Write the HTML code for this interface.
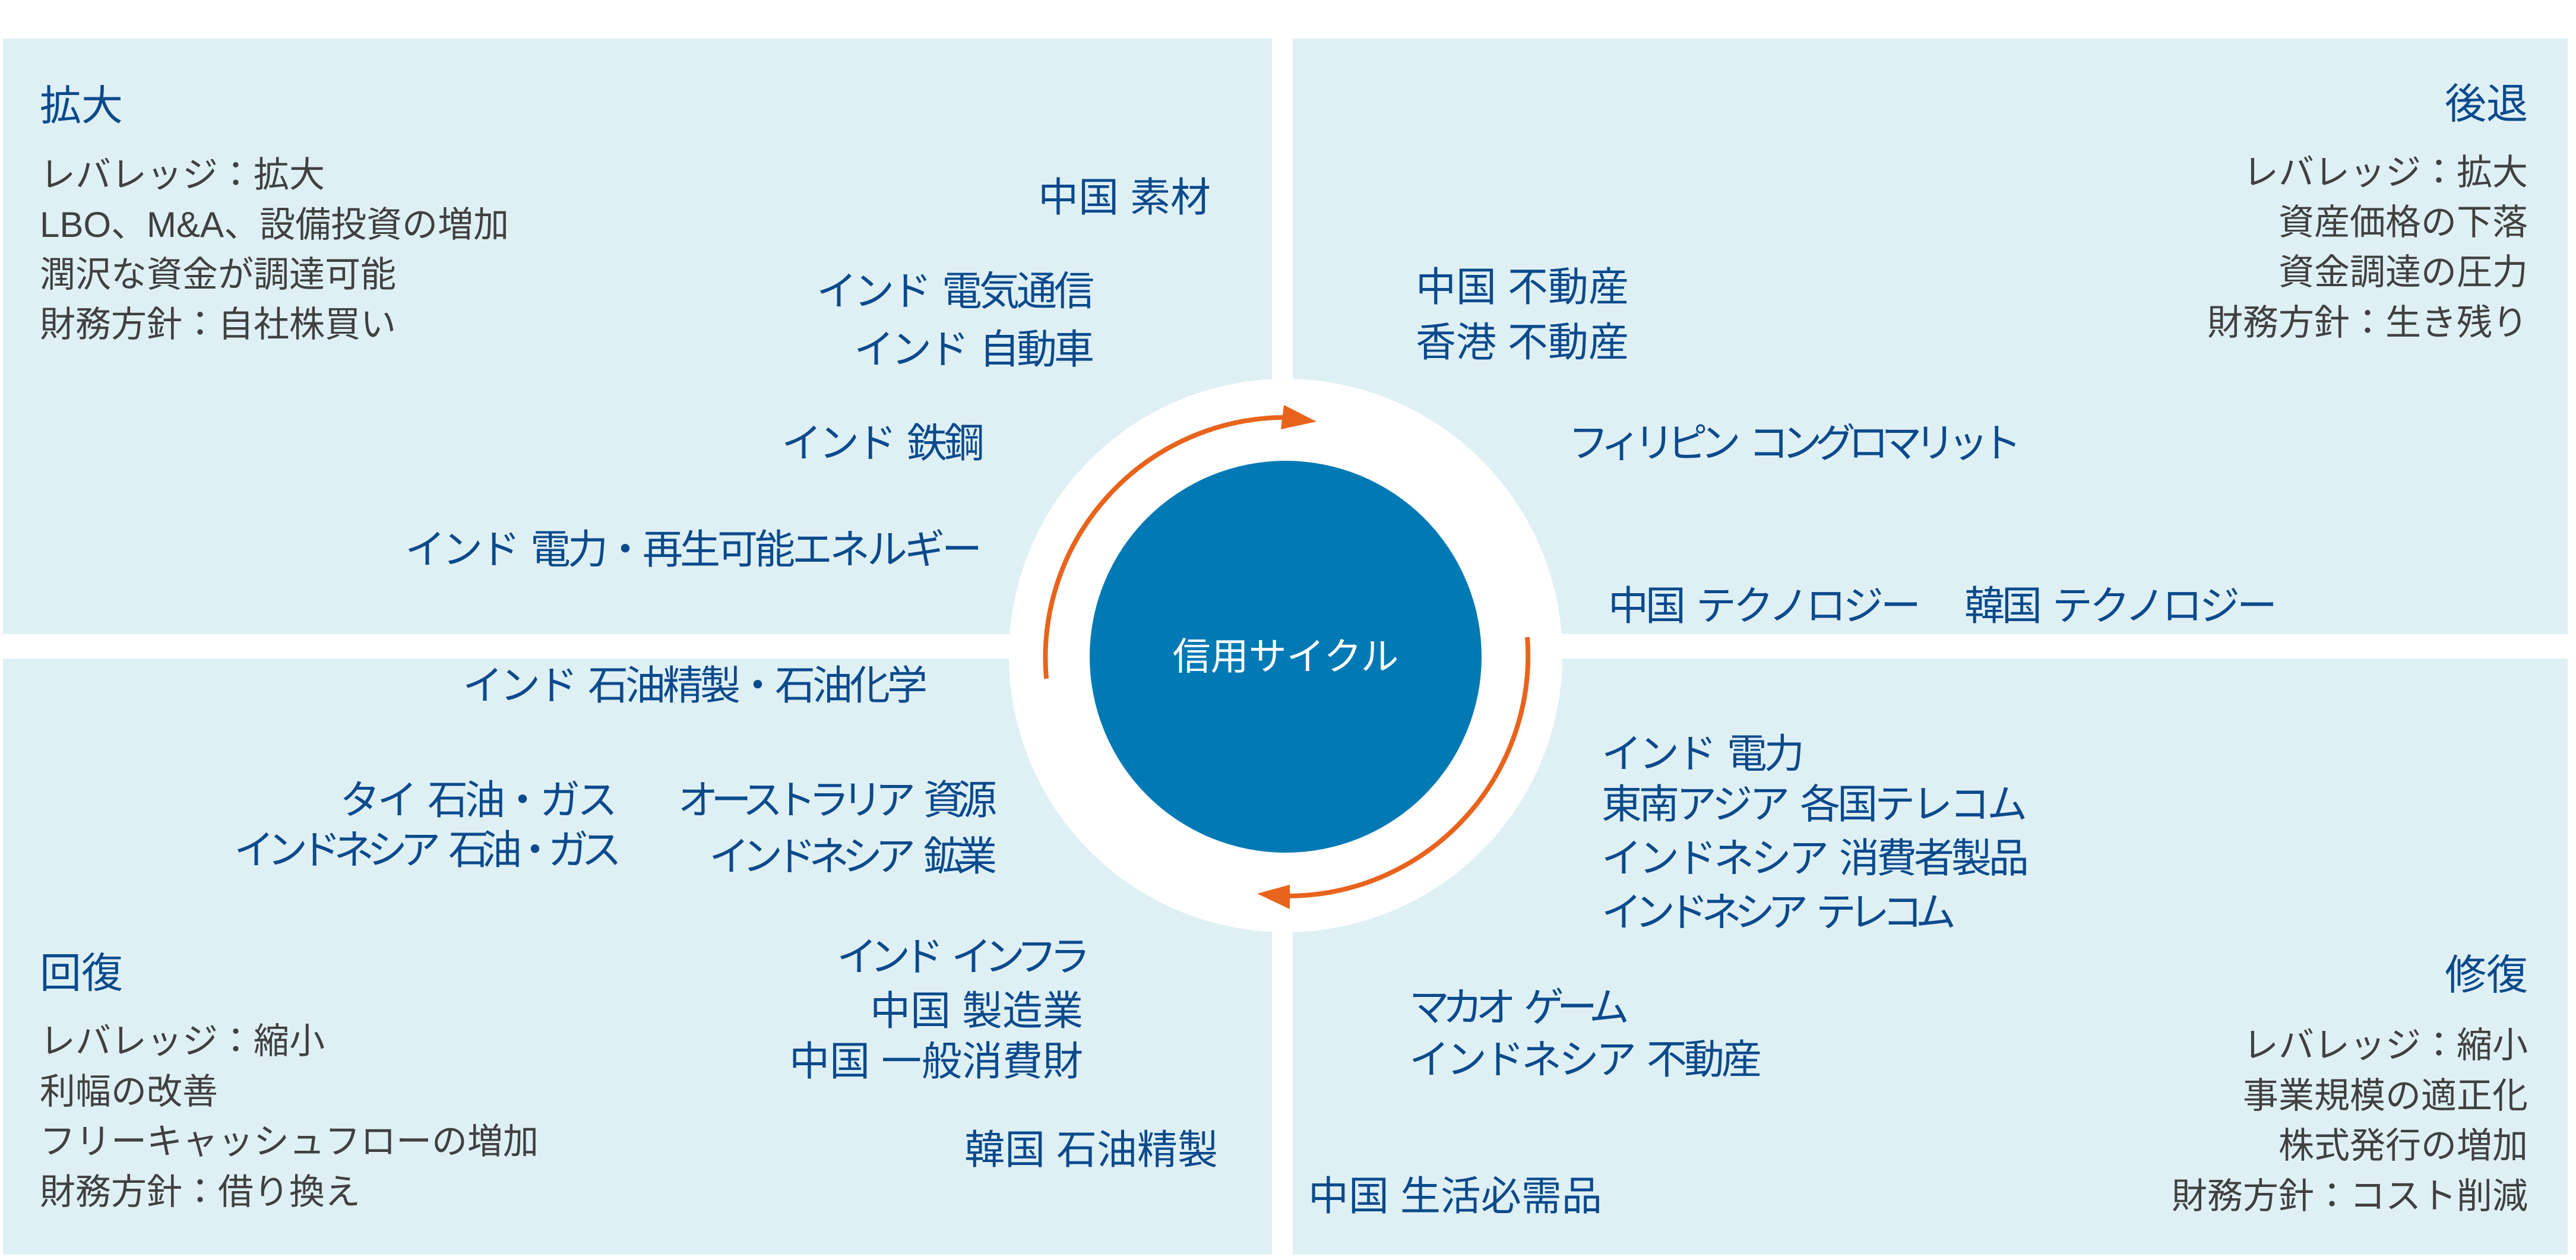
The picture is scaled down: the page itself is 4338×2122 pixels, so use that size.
<!DOCTYPE html>
<html><head><meta charset="utf-8">
<style>
html,body{margin:0;padding:0;background:#fff;}
#c{position:relative;width:4338px;height:2122px;overflow:hidden;background:#fff;font-family:"Liberation Sans","Noto Sans CJK JP",sans-serif;}
.p{position:absolute;background:#dff0f5;}
.t{position:absolute;white-space:nowrap;transform:translateY(-50%);line-height:1;}
.b{color:#0b4a8c;font-size:68px;}
.h{color:#0b4a8c;font-size:70px;}
.g{color:#404040;font-size:60px;}
.r{text-align:right;}
.k{letter-spacing:-12px;word-spacing:18px;}
.m{letter-spacing:-5px;word-spacing:8px;}
svg{position:absolute;left:0;top:0;}
</style></head><body><div id="c">
<div class="p" style="left:5px;top:65px;width:2137px;height:1003px"></div>
<div class="p" style="left:2177px;top:65px;width:2147px;height:1003px"></div>
<div class="p" style="left:5px;top:1109px;width:2137px;height:1004px"></div>
<div class="p" style="left:2177px;top:1109px;width:2147px;height:1004px"></div>

<svg width="4338" height="2122" viewBox="0 0 4338 2122">
<circle cx="2165" cy="1104" r="466" fill="#fff"/>
<circle cx="2165" cy="1106" r="330" fill="#0079b4"/>
<path d="M1762 1143 A405 405 0 0 1 2160 703" fill="none" stroke="#e8641c" stroke-width="8"/>
<polygon points="2162,682 2217,710 2157,723" fill="#e8641c"/>
<path d="M2572 1073 A405 405 0 0 1 2172 1509" fill="none" stroke="#e8641c" stroke-width="8"/>
<polygon points="2172,1490 2117,1505 2172,1531" fill="#e8641c"/>
<text x="2165" y="1128" fill="#fff" font-size="64" text-anchor="middle" font-family="Liberation Sans, Noto Sans CJK JP, sans-serif">信用サイクル</text>
</svg>

<!-- TL -->
<div class="t h" style="left:67px;top:178px">拡大</div>
<div class="t g" style="left:67px;top:295px">レバレッジ：拡大</div>
<div class="t g" style="left:67px;top:379px">LBO、M&amp;A、設備投資の増加</div>
<div class="t g" style="left:67px;top:463px">潤沢な資金が調達可能</div>
<div class="t g" style="left:67px;top:547px">財務方針：自社株買い</div>
<div class="t b r" style="right:2299px;top:333px">中国 素材</div>
<div class="t b r m" style="right:2500px;top:491px">インド 電気通信</div>
<div class="t b r m" style="right:2500px;top:589px">インド 自動車</div>
<div class="t b r m" style="right:2685px;top:747px">インド 鉄鋼</div>
<div class="t b r m" style="right:2689px;top:926px">インド 電力・再生可能エネルギー</div>

<!-- TR -->
<div class="t h r" style="right:81px;top:175px">後退</div>
<div class="t g r" style="right:81px;top:291px">レバレッジ：拡大</div>
<div class="t g r" style="right:81px;top:375px">資産価格の下落</div>
<div class="t g r" style="right:81px;top:459px">資金調達の圧力</div>
<div class="t g r" style="right:81px;top:544px">財務方針：生き残り</div>
<div class="t b" style="left:2384px;top:484px">中国 不動産</div>
<div class="t b" style="left:2384px;top:577px">香港 不動産</div>
<div class="t b k" style="left:2641px;top:747px">フィリピン コングロマリット</div>
<div class="t b m" style="left:2708px;top:1021px">中国 テクノロジー</div>
<div class="t b m" style="left:3308px;top:1021px">韓国 テクノロジー</div>

<!-- BL -->
<div class="t b r m" style="right:2781px;top:1155px">インド 石油精製・石油化学</div>
<div class="t b r m" style="right:3303px;top:1348px">タイ 石油・ガス</div>
<div class="t b r k" style="right:3303px;top:1432px">インドネシア 石油・ガス</div>
<div class="t b r k" style="right:2671px;top:1348px">オーストラリア 資源</div>
<div class="t b r k" style="right:2671px;top:1443px">インドネシア 鉱業</div>
<div class="t h" style="left:67px;top:1639px">回復</div>
<div class="t g" style="left:67px;top:1754px">レバレッジ：縮小</div>
<div class="t g" style="left:67px;top:1839px">利幅の改善</div>
<div class="t g" style="left:67px;top:1923px">フリーキャッシュフローの増加</div>
<div class="t g" style="left:67px;top:2008px">財務方針：借り換え</div>
<div class="t b r k" style="right:2514px;top:1612px">インド インフラ</div>
<div class="t b r" style="right:2514px;top:1703px">中国 製造業</div>
<div class="t b r" style="right:2514px;top:1788px">中国 一般消費財</div>
<div class="t b r" style="right:2287px;top:1937px">韓国 石油精製</div>

<!-- BR -->
<div class="t b m" style="left:2697px;top:1270px">インド 電力</div>
<div class="t b m" style="left:2697px;top:1355px">東南アジア 各国テレコム</div>
<div class="t b m" style="left:2697px;top:1446px">インドネシア 消費者製品</div>
<div class="t b k" style="left:2697px;top:1537px">インドネシア テレコム</div>
<div class="t h r" style="right:81px;top:1642px">修復</div>
<div class="t g r" style="right:81px;top:1761px">レバレッジ：縮小</div>
<div class="t g r" style="right:81px;top:1846px">事業規模の適正化</div>
<div class="t g r" style="right:81px;top:1930px">株式発行の増加</div>
<div class="t g r" style="right:81px;top:2015px">財務方針：コスト削減</div>
<div class="t b k" style="left:2373px;top:1697px">マカオ ゲーム</div>
<div class="t b m" style="left:2373px;top:1785px">インドネシア 不動産</div>
<div class="t b" style="left:2203px;top:2015px">中国 生活必需品</div>
</div></body></html>
